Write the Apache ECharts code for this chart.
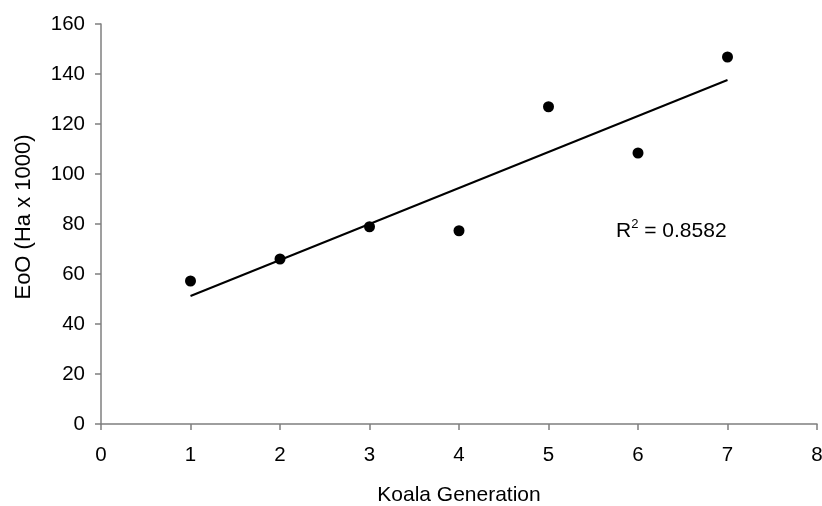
<!DOCTYPE html>
<html>
<head>
<meta charset="utf-8">
<script src="https://cdn.jsdelivr.net/npm/echarts@6/dist/echarts.min.js"></script>
<style>
  html, body { margin: 0; padding: 0; background: #fff; }
  #chart-container { width: 822px; height: 506px; }
</style>
</head>
<body>
<div id="chart-container"></div>
<script>
var generations = [1, 2, 3, 4, 5, 6, 7];
var eooValues = [57.2, 66, 78.9, 77.3, 126.9, 108.4, 146.8];
// trend line end points
var trendX = [1, 7];
var trendY = [51.2, 137.6];
var rSquared = "0.8582";

var dom = document.getElementById("chart-container");
var myChart = echarts.init(dom, null, { renderer: "canvas" });

var axisColor = "#7f7f7f";
var font = "Liberation Sans, Arial, sans-serif";

var option = {
  animation: false,
  grid: { left: 101, right: 5, top: 24, bottom: 82, containLabel: false, outerBoundsMode: "none" },
  xAxis: {
    type: "value",
    min: 0,
    max: 8,
    interval: 1,
    name: "Koala Generation",
    nameLocation: "middle",
    nameGap: 61,
    nameTextStyle: { color: "#000", fontSize: 21, fontFamily: font },
    axisLine: { lineStyle: { color: axisColor, width: 1.5 } },
    axisTick: { inside: false, length: 6, lineStyle: { color: axisColor, width: 1.5 } },
    axisLabel: { color: "#000", fontSize: 20.5, fontFamily: font, margin: 21 },
    splitLine: { show: false }
  },
  yAxis: {
    type: "value",
    min: 0,
    max: 160,
    interval: 20,
    name: "EoO (Ha x 1000)",
    nameLocation: "middle",
    nameGap: 66,
    nameTextStyle: { color: "#000", fontSize: 22, fontFamily: font, padding: [0, 0, 0, 14] },
    axisLine: { show: true, lineStyle: { color: axisColor, width: 1.5 } },
    axisTick: { show: true, inside: false, length: 6, lineStyle: { color: axisColor, width: 1.5 } },
    axisLabel: { color: "#000", fontSize: 20.5, fontFamily: font, margin: 16 },
    splitLine: { show: false }
  },
  series: [
    {
      type: "line",
      data: trendX.map(function (x, i) { return [x, trendY[i]]; }),
      showSymbol: false,
      symbol: "none",
      lineStyle: { color: "#000", width: 2 },
      silent: true,
      z: 2
    },
    {
      type: "scatter",
      data: generations.map(function (g, i) { return [g, eooValues[i]]; }),
      symbol: "circle",
      symbolSize: 11,
      itemStyle: { color: "#000", opacity: 1 },
      z: 3
    }
  ],
  graphic: [
    {
      type: "text",
      left: 616,
      top: 218,
      style: {
        text: "{r|R}{s|2}{r| = " + rSquared + "}",
        rich: {
          r: { fontSize: 21, fontFamily: font, fill: "#000", lineHeight: 24, verticalAlign: "bottom" },
          s: { fontSize: 13, fontFamily: font, fill: "#000", lineHeight: 24, verticalAlign: "top" }
        }
      }
    }
  ]
};

myChart.setOption(option);
window.addEventListener("resize", myChart.resize);
</script>
</body>
</html>
